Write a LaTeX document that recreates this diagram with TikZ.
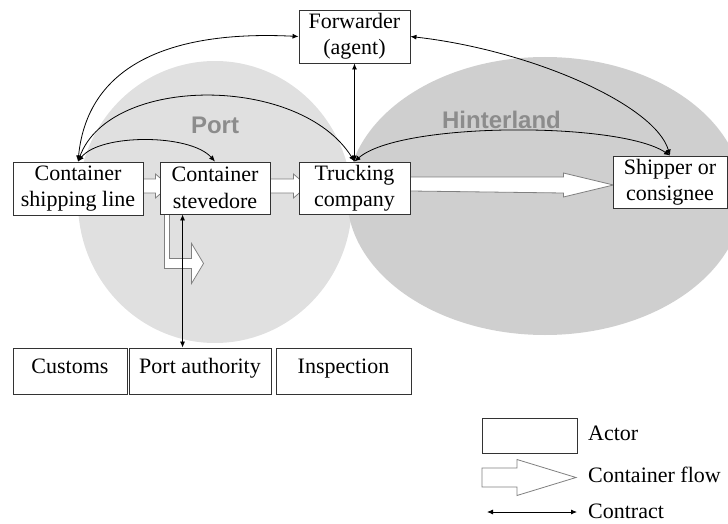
\documentclass[tikz,border=0pt]{standalone}
\usepackage{fontspec}
\setmainfont{Liberation Serif}
\setsansfont{Liberation Sans}
\usetikzlibrary{arrows.meta,calc,backgrounds}

\begin{document}
\begin{tikzpicture}[x=1pt, y=-1pt,
	actor/.style = {draw=black!80, fill=white, line width=0.9pt, align=center, inner sep=0pt, font=\fontsize{22}{26.4}\selectfont},
	flow/.style = {draw=black!50, fill=white, line width=0.8pt},
	contract/.style = {{Latex[length=6pt,width=5pt]}-{Latex[length=6pt,width=5pt]}, line width=0.8pt},
	region/.style = {font=\fontsize{24}{28}\selectfont\sffamily\bfseries, text=black!45},
	legtext/.style = {font=\fontsize{22}{26.4}\selectfont, anchor=base west, inner sep=0pt}
	]
	\useasboundingbox (0,0) rectangle (728,524);
	% actors
	\node[actor, minimum width=111pt, minimum height=53pt] (fwd) at (354.5,36.5) {Forwarder\\(agent)};
	\node[actor, minimum width=130pt, minimum height=53pt] (line) at (78,188.5) {Container\\shipping line};
	\node[actor, minimum width=110pt, minimum height=52pt] (stev) at (215,188) {Container\\stevedore};
	\node[actor, minimum width=111pt, minimum height=52pt] (truck) at (354.5,188) {Trucking\\company};
	\node[actor, minimum width=114pt, minimum height=52pt] (ship) at (670,182) {Shipper or\\consignee};
	\foreach \n/\x/\w/\t in {cust/70/114/Customs, auth/200/142/Port authority, insp/343.5/135/Inspection}
		\node[actor, minimum width=\w pt, text height=25pt, text depth=21pt] (\n) at (\x,371) {\t};
	% port and hinterland
	\begin{scope}[on background layer]
		\fill[black!12] (215,202) ellipse [x radius=137, y radius=141];
		\fill[black!19] (545,196) ellipse [x radius=198, y radius=139];
		\node[region] (port) at (215,125) {Port};
		\node[region] (hinter) at (501.5,120) {Hinterland};
	\end{scope}
	% container flows
	\begin{scope}[on background layer]
		\draw[flow] ($(line.east)+(0,-9.5)$) -- ++(12,0) -- ++(0,-5) -- ++(14,12) -- ++(-14,12) -- ++(0,-5) -- ($(line.east)+(0,4.5)$) -- cycle;
		\draw[flow] ($(stev.east)+(0,-9)$) -- ++(23,0) -- ++(0,-5) -- ++(14,12) -- ++(-14,12) -- ++(0,-5) -- ($(stev.east)+(0,5)$) -- cycle;
		\draw[flow] ($(truck.east)+(0,-11)$) -- ++(153,0) -- ++(0,-4) -- ++(50,12) -- ++(-50,12) -- ++(0,-4) -- ($(truck.east)+(0,3)$) -- cycle;
		\draw[flow] ($(stev.south west)+(5,0)$) -- ++(0,54) -- ++(27,0) -- ++(0,15) -- ++(12,-20) -- ++(-12,-20) -- ++(0,15) -- ++(-22,0) -- ($(stev.south west)+(10,0)$) -- cycle;
	\end{scope}
	% contracts
	\draw[contract] (line.north) .. controls +(10,-102) and +(-119,-6) .. (fwd.west);
	\draw[contract] (line.north) .. controls +(32,-87) and +(-54.5,-87) .. (truck.north);
	\draw[contract] (line.north) .. controls +(22,-28) and +(-25,-28) .. (stev.north);
	\draw[contract] (truck.north) -- (fwd.south);
	\draw[contract] (truck.north) .. controls +(45.5,-40) and +(-50,-34) .. (ship.north);
	\draw[contract] (fwd.east) .. controls +(120,13.5) and +(-15,-51) .. (ship.north);
	\draw[contract] ($(stev.south west)+(23,0)$) coordinate (stevdown) -- (stevdown |- auth.north);
	% legend
	\node[actor, minimum width=95pt, minimum height=35pt] (legactor) at (529.5,435.5) {};
	\draw[flow] (482,468) -- (517,468) -- (517,459.5) -- (576,477.5) -- (517,495.5) -- (517,487) -- (482,487) -- cycle;
	\coordinate (legleft) at (487,512);
	\coordinate (legright) at (577,512);
	\draw[contract] (legleft) -- (legright);
	\node[legtext] (tactor) at (588,440) {Actor};
	\node[legtext] (tflow) at (588,482) {Container flow};
	\node[legtext] (tcontract) at (588,518.5) {Contract};
\end{tikzpicture}
\end{document}
